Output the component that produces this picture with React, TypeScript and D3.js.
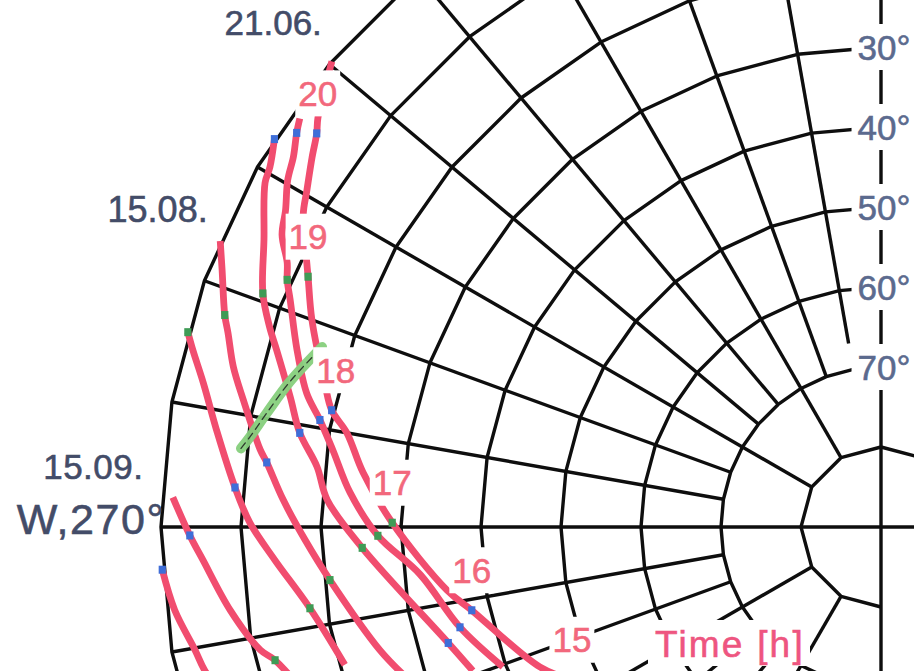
import React from "react";
import * as d3 from "d3";

// ---------- layout ----------
const WIDTH = 914;
const HEIGHT = 671;
const CENTER_X = 881;
const CENTER_Y = 527;
const HORIZON_R = 720;

// ---------- grid ----------
const altitudeRings = [0, 10, 20, 30, 40, 50, 60, 70, 80];
const azimuthSpokes = d3.range(190, 360, 10);
const spokeShortAz = [350];
const spokeShortAlt = [66.7];
const ringTickLabels = [30, 40, 50, 60, 70];

// ---------- sun paths [azimuth°, altitude°] ----------
const path2106: [number, number][] = [
  [310.3, 0], [306.0, 3.0], [304.9, 4.0], [303.0, 5.2], [300.4, 6.8], [298.4, 7.9],
  [294.7, 11.0], [293.6, 11.85], [290.0, 14.3], [284.3, 18.3], [282.0, 19.8],
  [280.0, 22.2], [276.0, 24.9], [270.5, 28.9], [261.7, 35.2], [258.5, 37.8],
  [247.7, 43.9], [243.7, 46.9],
];
const pathB: [number, number][] = [
  [305.1, 1.2], [304.0, 1.9], [302.2, 3.2], [300.3, 4.1], [298.0, 5.7], [296.0, 6.7],
  [294.0, 8.75], [292.6, 9.6], [291.0, 10.9], [286.9, 13.7], [283.1, 16.3],
  [280.8, 18.6], [278.0, 20.8], [273.7, 23.5], [269.0, 27.1], [264.1, 32.1],
  [256.6, 35.9], [249.7, 39.6],
];
const pathA: [number, number][] = [
  [302.6, 0], [300.5, 1.35], [299.2, 1.8], [295.0, 4.9], [290.7, 7.4], [288.1, 9.6],
  [286.3, 11.3], [282.4, 14.4], [279.2, 16.4], [276.1, 19.1], [272.8, 20.7],
  [267.7, 25.1], [255.0, 34.0], [250.6, 35.9],
];
const path1508: [number, number][] = [
  [293.4, 0], [291.3, 1.6], [287.9, 3.8], [286.55, 4.85], [283.9, 6.6], [281.3, 8.7],
  [277.1, 11.8], [276.0, 12.8], [272.6, 15.2], [268.7, 18.0], [264.5, 20.8],
  [256.2, 25.5], [252.0, 28.0],
];
const pathE: [number, number][] = [
  [285.7, 0], [284.4, 1.2], [282.0, 3.4], [278.1, 6.2], [273.5, 9.1], [270.4, 11.1],
  [266.9, 14.1], [261.9, 17.9], [255.6, 20.8],
];
const path1509: [number, number][] = [
  [272.4, 1.4], [269.3, 3.6], [267.2, 5.15], [262.7, 8.0], [258.8, 10.9],
  [257.6, 12.45], [254.0, 15.0],
];
const pathG: [number, number][] = [
  [266.6, 0], [263.3, 1.1], [259.8, 2.9], [258.0, 3.6], [255.0, 5.5],
];
const sunPaths = [path2106, pathB, pathA, path1508, pathE, path1509, pathG];

// ---------- hour marks [hour, azimuth°, altitude°] ----------
const marks2106: [number, number, number][] = [
  [20, 304.9, 4.0], [19, 293.6, 11.85], [18, 282.0, 19.8], [17, 270.5, 28.9], [16, 258.5, 37.8], [15, 243.7, 46.9],
];
const marksB: [number, number, number][] = [
  [20, 304.0, 1.9], [19, 292.6, 9.6], [18, 280.8, 18.6], [17, 269.0, 27.1], [16, 256.6, 35.9],
];
const marksA: [number, number, number][] = [
  [20, 302.6, 0], [19, 290.7, 7.4], [18, 279.2, 16.4], [17, 267.7, 25.1], [16, 255.0, 34.0],
];
const marks1508: [number, number, number][] = [
  [19, 287.9, 3.8], [18, 276.0, 12.8], [17, 264.5, 20.8],
];
const marksE: [number, number, number][] = [
  [19, 285.7, 0], [18, 273.5, 9.1], [17, 261.9, 17.9],
];
const marks1509: [number, number, number][] = [
  [18, 269.3, 3.6], [17, 257.6, 12.45],
];
const marksG: [number, number, number][] = [[18, 266.6, 0]];
const hourMarks = [marks2106, marksB, marksA, marks1508, marksE, marks1509, marksG];

// ---------- obstruction profile [azimuth°, altitude°] ----------
const obstruction: [number, number][] = [
  [277.0, 9.4], [278.1, 10.3], [280.5, 11.9], [283.8, 13.9], [287.85, 16.6],
];

// ---------- labels ----------
const dateLabels = ["21.06.", "15.08.", "15.09.", "W,270°"];
const dateLabelAz = [309.7, 293.7, 274.4, 270.6];
const dateLabelSize = [35, 36, 35, 43];
const dateLabelSpacing = [0, 0, 0.5, 1.6];
const hourLabelOffset = -40;
const hourLabelShiftX = [1, 0, 4, 0, 0, 0];
const timeAxisLabel = "Time [h]";

const CHAR_W: Record<string, number> = {
  "0": 0.556, "1": 0.556, "2": 0.556, "3": 0.556, "4": 0.556, "5": 0.556, "6": 0.556,
  "7": 0.556, "8": 0.556, "9": 0.556, ".": 0.278, "°": 0.4, ",": 0.278, W: 0.944,
};
const textW = (s: string, fs: number) =>
  s.split("").reduce((a, c) => a + (CHAR_W[c] ?? 0.556), 0) * fs;

const FONT = "'Liberation Sans', Arial, sans-serif";
const GRID = "#0e0e0e";
const PINK = "#f14d6f";

export default function App() {
  const rScale = d3.scaleLinear().domain([90, 0]).range([0, HORIZON_R]);
  const proj = (az: number, alt: number): [number, number] => {
    const a = (az * Math.PI) / 180;
    const rr = rScale(alt);
    return [CENTER_X + rr * Math.sin(a), CENTER_Y - rr * Math.cos(a)];
  };
  const straight = d3
    .line<[number, number]>()
    .x((d) => proj(d[0], d[1])[0])
    .y((d) => proj(d[0], d[1])[1]);
  const smooth = d3
    .line<[number, number]>()
    .x((d) => proj(d[0], d[1])[0])
    .y((d) => proj(d[0], d[1])[1])
    .curve(d3.curveCatmullRom.alpha(0.5));

  const rings = altitudeRings.map((alt) => {
    const step = alt === 80 ? 30 : 10;
    const pts = d3.range(180, 400 + 0.1, step).map((az) => [az, alt] as [number, number]);
    return straight(pts) as string;
  });
  const spokes = azimuthSpokes
    .filter((az) => az !== 270)
    .map((az) => {
      const si = spokeShortAz.indexOf(az);
      const inner = si >= 0 ? spokeShortAlt[si] : az % 30 === 0 ? 80 : 70;
      return straight([[az, 0], [az, inner]]) as string;
    });
  const axes = [
    straight([[270, 0], [90, 0]]) as string,
    straight([[360, 0], [180, 0]]) as string,
  ];

  const hourFs = 35;
  const labelBox = (cx: number, cy: number, text: string, fs: number, padX = 6, h = 48) => {
    const w = textW(text, fs) + padX * 2;
    return <rect x={cx - w / 2} y={cy - h / 2} width={w} height={h} fill="#fff" />;
  };

  return (
    <svg
      width={WIDTH}
      height={HEIGHT}
      style={{ position: "absolute", left: 0, top: 0, background: "#fff" }}
      fontFamily={FONT}
    >
      <rect x={0} y={0} width={WIDTH} height={HEIGHT} fill="#fff" />
      <g fill="none" stroke={GRID} strokeWidth={3.4} strokeLinejoin="round">
        {rings.map((d, i) => (
          <path key={"r" + i} d={d} />
        ))}
        {spokes.map((d, i) => (
          <path key={"s" + i} d={d} />
        ))}
        {axes.map((d, i) => (
          <path key={"a" + i} d={d} />
        ))}
      </g>

      <g fill="none" stroke={PINK} strokeWidth={6.8} strokeLinejoin="round">
        {sunPaths.map((p, i) => (
          <path key={"p" + i} d={smooth(p) as string} />
        ))}
      </g>

      <g>
        {hourMarks.flatMap((ms, i) =>
          ms.map(([h, az, alt], j) => {
            const [x, y] = proj(az, alt);
            return (
              <rect
                key={`m${i}-${j}`}
                x={x - 3.6}
                y={y - 4}
                width={7.2}
                height={8}
                fill={h % 2 === 0 ? "#3f6ed8" : "#3f9b55"}
              />
            );
          })
        )}
      </g>

      <g fill="none" strokeLinecap="round">
        <path d={smooth(obstruction) as string} stroke="#86cf7c" strokeWidth={10} opacity={0.95} />
        <path d={smooth(obstruction) as string} stroke="#2e3a2e" strokeWidth={1.3} strokeDasharray="7 5" />
      </g>

      {/* ring labels on the north axis */}
      <g>
        {ringTickLabels.map((alt) => {
          const [x0, y] = proj(360, alt);
          const x = x0 + 3;
          const t = `${alt}°`;
          return (
            <g key={"rl" + alt}>
              {labelBox(x, y, t, 35, 6, 46)}
              <text
                x={x}
                y={y + 0.358 * 35}
                textAnchor="middle"
                fontSize={35}
                fill="#5b6a8e"
                stroke="#5b6a8e"
                strokeWidth={0.6}
              >
                {t}
              </text>
            </g>
          );
        })}
      </g>

      {/* hour labels along 21.06 */}
      <g>
        {marks2106.map(([h, az, alt], i) => {
          const [x0, y0] = proj(az, alt);
          const x = x0 + hourLabelShiftX[i];
          const y = y0 + hourLabelOffset;
          const t = String(h);
          return (
            <g key={"hl" + h}>
              {labelBox(x, y, t, hourFs, 3, 46)}
              <text
                x={x}
                y={y + 0.358 * hourFs}
                textAnchor="middle"
                fontSize={hourFs}
                fill="#f2687c"
                stroke="#f2687c"
                strokeWidth={0.6}
              >
                {t}
              </text>
            </g>
          );
        })}
      </g>

      {/* date labels beyond the horizon */}
      <g>
        {dateLabels.map((t, i) => {
          const [x, y] = proj(dateLabelAz[i], -8.75);
          const fs = dateLabelSize[i];
          return (
            <text
              key={"dl" + i}
              x={x}
              y={y + 0.358 * fs}
              textAnchor="middle"
              fontSize={fs}
              letterSpacing={dateLabelSpacing[i]}
              fill="#434c68"
              stroke="#434c68"
              strokeWidth={0.6}
            >
              {t}
            </text>
          );
        })}
      </g>

      <g>
        <rect x={648} y={620} width={162} height={46} fill="#fff" />
        <text
          x={655}
          y={657}
          fontSize={37}
          letterSpacing={2.2}
          fill="#ee5580"
          stroke="#ee5580"
          strokeWidth={0.6}
        >
          {timeAxisLabel}
        </text>
      </g>
    </svg>
  );
}
